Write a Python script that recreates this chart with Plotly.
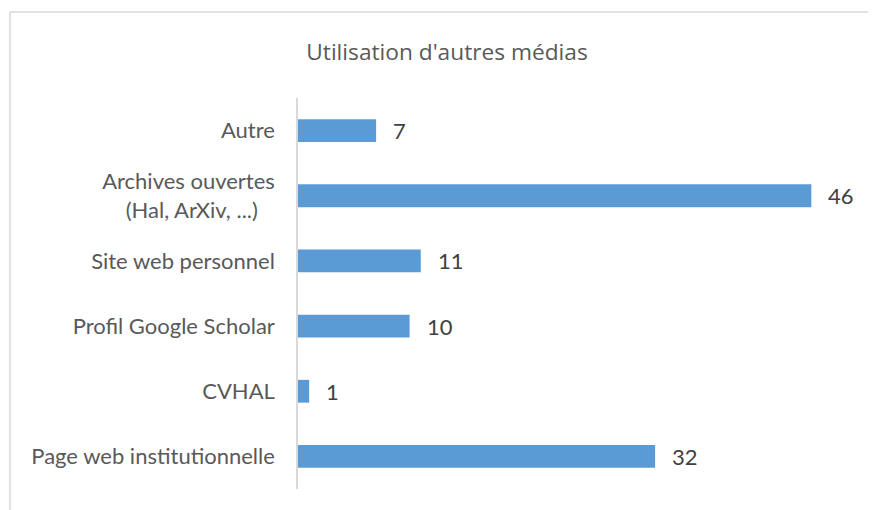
import plotly.graph_objects as go

categories = ["Page web institutionnelle", "CVHAL", "Profil Google Scholar",
              "Site web personnel", "Archives ouvertes<br>(Hal, ArXiv, ...)\u00a0\u00a0\u00a0", "Autre"]
values = [32, 1, 10, 11, 46, 7]
title_text = "Utilisation d'autres médias"

# page body has an 8px default margin; size figure accordingly
OFF = 8
W, H = 876 - OFF, 510 - OFF
ml, mr, mt, mb = 298 - OFF, 20, 98 - OFF, 21

fig = go.Figure(go.Bar(
    x=values, y=categories, orientation="h",
    marker=dict(color="#5B9BD5", line=dict(width=0)),
    hoverinfo="x+y",
))

for c, v in zip(categories, values):
    fig.add_annotation(x=v, y=c, text=str(v), showarrow=False, xanchor="left", xshift=15,
                       font=dict(family="Lato, Open Sans, sans-serif", size=22, color="#404040"))

pw, ph = W - ml - mr, H - mt - mb
def px_x(x): return (x - OFF - ml) / pw
def px_y(y): return (H - mb - (y - OFF)) / ph

fig.update_layout(
    width=W, height=H,
    margin=dict(l=ml, r=mr, t=mt, b=mb),
    paper_bgcolor="white", plot_bgcolor="white",
    bargap=0.65,
    title=dict(text=title_text, x=(447 - OFF) / W, xanchor="center", y=1 - (52 - OFF) / H, yanchor="middle",
               font=dict(family="Open Sans, sans-serif", size=22.7, color="#595959")),
    xaxis=dict(range=[0, 50], visible=False, fixedrange=True),
    yaxis=dict(showline=True, linecolor="#D9D9D9", linewidth=1.5, ticks="",
               tickfont=dict(family="Lato, Open Sans, sans-serif", size=22, color="#595959"),
               ticklabelstandoff=17, showgrid=False),
    showlegend=False,
    shapes=[
        dict(type="line", xref="paper", yref="paper", x0=px_x(10), x1=px_x(880), y0=px_y(12), y1=px_y(12),
             line=dict(color="#D9D9D9", width=1.5)),
        dict(type="line", xref="paper", yref="paper", x0=px_x(10), x1=px_x(10), y0=px_y(12), y1=px_y(515),
             line=dict(color="#D9D9D9", width=1.5)),
    ],
)

fig.write_html("out.html")
